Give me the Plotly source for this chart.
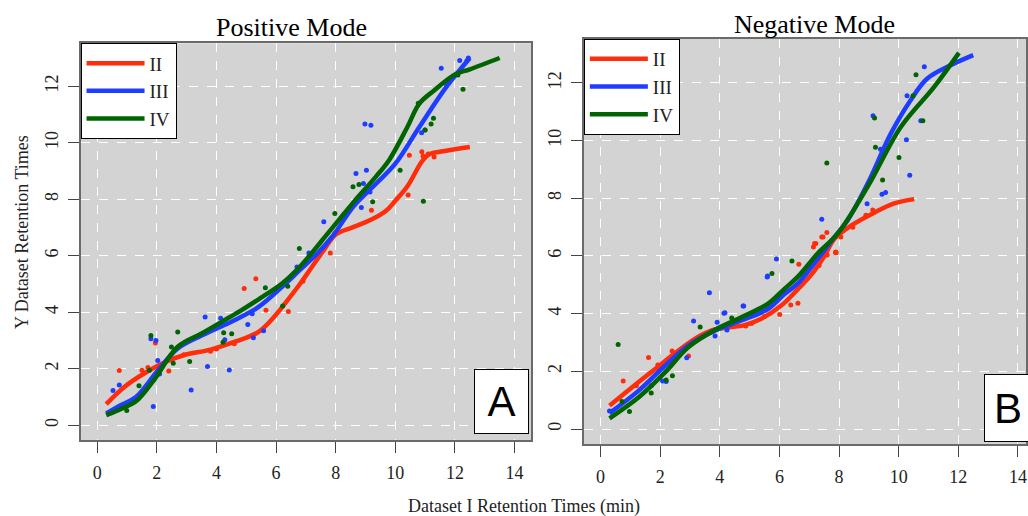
import plotly.graph_objects as go

# ---------------- data: Positive Mode (panel A) ----------------
pos_II_curve_x = [0.3, 0.9, 1.6, 2.3, 2.9, 3.8, 4.6, 5.4, 5.9, 6.4, 6.8, 7.2, 7.6, 8.0, 8.5, 9.2, 9.7, 10.0, 10.4, 10.9, 11.15, 11.6, 12.5]
pos_II_curve_y = [0.75, 1.35, 1.85, 2.25, 2.48, 2.68, 2.95, 3.3, 3.8, 4.45, 5.0, 5.6, 6.2, 6.75, 6.98, 7.28, 7.6, 7.95, 8.45, 9.35, 9.6, 9.7, 9.85]
pos_III_curve_x = [0.3, 0.8, 1.3, 2.0, 2.7, 3.5, 4.6, 5.4, 6.2, 6.8, 7.4, 7.9, 8.6, 9.35, 10.0, 10.8, 11.7, 12.5]
pos_III_curve_y = [0.42, 0.72, 1.0, 1.9, 2.72, 3.18, 3.72, 4.18, 4.9, 5.5, 6.1, 6.7, 7.75, 8.55, 9.26, 10.55, 11.96, 13.0]
pos_IV_curve_x = [0.3, 0.8, 1.3, 1.9, 2.7, 3.5, 4.2, 4.8, 5.4, 6.2, 6.7, 7.2, 7.7, 8.1, 8.6, 9.35, 9.8, 10.4, 10.8, 11.3, 12.0, 12.5, 13.5]
pos_IV_curve_y = [0.36, 0.58, 0.85, 1.6, 2.78, 3.25, 3.68, 4.05, 4.45, 5.02, 5.5, 6.1, 6.75, 7.26, 7.9, 8.8, 9.4, 10.55, 11.38, 11.85, 12.42, 12.6, 13.0]

pos_II_pts_x = [0.74, 1.95, 2.4, 4.93, 5.32, 5.66, 6.41, 7.82, 9.2, 10.43, 10.47, 10.89, 10.93, 1.5, 2.9, 3.8, 4.6, 6.9, 7.97, 11.1, 11.3, 1.7, 4.0]
pos_II_pts_y = [1.94, 2.91, 1.92, 4.84, 5.19, 4.07, 4.03, 6.1, 7.61, 8.15, 9.56, 9.68, 9.53, 1.95, 2.5, 2.62, 2.89, 5.1, 6.8, 9.6, 9.5, 2.05, 2.7]
pos_III_pts_x = [0.53, 0.74, 1.97, 1.8, 1.88, 3.15, 3.62, 3.7, 4.14, 4.43, 4.28, 5.05, 5.2, 5.24, 5.58, 2.03, 2.09, 1.9, 8.98, 9.18, 8.68, 9.03, 8.93, 9.15, 8.86, 11.54, 12.16, 10.88, 10.99, 11.72, 12.4, 12.45, 7.6, 6.7, 7.1]
pos_III_pts_y = [1.23, 1.43, 3.0, 3.06, 0.67, 1.25, 3.83, 2.08, 3.79, 1.96, 3.03, 3.57, 3.95, 3.1, 3.35, 2.29, 1.82, 1.62, 10.66, 10.62, 8.91, 9.03, 8.56, 8.26, 7.71, 12.64, 12.91, 10.35, 10.45, 12.05, 12.9, 13.0, 7.2, 5.6, 6.1]
pos_IV_pts_x = [1.8, 2.7, 2.49, 0.99, 3.1, 4.24, 4.51, 4.22, 5.64, 6.22, 6.39, 8.58, 8.78, 9.24, 10.16, 10.94, 11.2, 11.28, 12.27, 10.77, 7.97, 6.78, 1.4, 2.55, 1.75, 11.0, 12.1]
pos_IV_pts_y = [3.18, 3.3, 2.77, 0.52, 2.26, 3.28, 3.24, 2.94, 4.87, 4.22, 4.92, 8.44, 8.52, 7.91, 9.03, 7.93, 10.66, 10.87, 11.89, 11.4, 7.5, 6.26, 1.4, 2.2, 1.95, 10.45, 12.4]

# ---------------- data: Negative Mode (panel B) ----------------
neg_II_curve_x = [0.3, 1.06, 1.83, 2.61, 3.28, 3.83, 4.28, 4.83, 5.39, 6.06, 6.62, 7.07, 7.51, 7.85, 8.4, 9.18, 9.85, 10.52]
neg_II_curve_y = [0.81, 1.45, 2.08, 2.72, 3.2, 3.45, 3.52, 3.6, 3.82, 4.28, 4.85, 5.35, 6.0, 6.6, 7.05, 7.5, 7.82, 7.97]
neg_III_curve_x = [0.3, 1.28, 2.17, 2.94, 3.83, 4.72, 5.61, 6.17, 6.62, 7.29, 7.85, 8.29, 8.96, 9.74, 10.4, 10.96, 11.74, 12.5]
neg_III_curve_y = [0.55, 1.33, 2.2, 2.89, 3.41, 3.76, 4.16, 4.68, 5.05, 5.91, 6.66, 7.24, 8.51, 10.25, 11.4, 12.15, 12.61, 12.96]
neg_IV_curve_x = [0.3, 1.28, 2.17, 2.94, 3.83, 4.72, 5.61, 6.17, 6.62, 7.29, 7.96, 8.96, 10.07, 11.19, 12.02]
neg_IV_curve_y = [0.37, 1.1, 1.97, 2.83, 3.43, 3.87, 4.34, 4.86, 5.28, 6.09, 6.78, 8.4, 10.47, 11.86, 13.04]

neg_II_pts_x = [0.76, 1.61, 1.92, 2.95, 6.01, 6.38, 6.62, 6.65, 7.9, 7.6, 4.87, 5.06, 7.18, 7.46, 7.88, 8.46, 8.9, 9.13, 7.22, 7.14, 7.42, 7.59, 7.89, 7.33, 8.06, 1.2, 2.4, 3.3, 5.5]
neg_II_pts_y = [1.66, 2.48, 2.22, 2.53, 3.97, 4.3, 4.36, 5.71, 6.11, 6.03, 3.57, 3.66, 6.43, 6.66, 6.12, 6.99, 7.41, 7.59, 6.43, 6.31, 6.66, 6.81, 6.14, 5.67, 6.66, 1.5, 2.7, 3.15, 3.9]
neg_III_pts_x = [3.65, 3.12, 4.17, 3.91, 2.89, 2.08, 5.9, 5.6, 4.8, 3.84, 4.24, 4.14, 4.78, 5.59, 7.42, 8.94, 9.44, 9.56, 10.86, 10.28, 9.14, 9.39, 10.26, 10.37, 10.74, 1.7, 2.2, 0.3]
neg_III_pts_y = [4.72, 3.74, 4.03, 3.7, 2.47, 1.66, 5.89, 5.3, 4.26, 3.22, 3.43, 4.01, 4.26, 5.27, 7.27, 7.81, 8.14, 8.2, 12.56, 11.55, 10.86, 9.7, 10.03, 8.8, 10.69, 1.5, 1.65, 0.62]
neg_IV_pts_x = [0.59, 0.72, 0.97, 2.41, 3.34, 5.75, 6.42, 7.59, 9.19, 9.22, 9.46, 10.01, 10.58, 10.48, 10.81, 1.7, 2.2, 4.4]
neg_IV_pts_y = [2.93, 0.95, 0.61, 1.85, 3.54, 5.39, 5.82, 9.22, 10.78, 9.77, 8.63, 9.41, 12.28, 11.55, 10.69, 1.25, 1.7, 3.85]

series_names = ["II", "III", "IV"]
series_colors = ["#ff2d0a", "#1f3dff", "#006400"]
x_ticks = [0, 2, 4, 6, 8, 10, 12, 14]
y_ticks = [0, 2, 4, 6, 8, 10, 12]
panel_titles = ["Positive Mode", "Negative Mode"]
panel_letters = ["A", "B"]
x_title = "Dataset I Retention Times (min)"
y_title = "Y Dataset Retention Times"

SERIF = "Liberation Serif, Times New Roman, serif"
W, H = 1028, 516

panels = [
    dict(xa="x", ya="y", legend="legend",
         curves=[(pos_II_curve_x, pos_II_curve_y), (pos_III_curve_x, pos_III_curve_y), (pos_IV_curve_x, pos_IV_curve_y)],
         pts=[(pos_II_pts_x, pos_II_pts_y), (pos_III_pts_x, pos_III_pts_y), (pos_IV_pts_x, pos_IV_pts_y)]),
    dict(xa="x2", ya="y2", legend="legend2",
         curves=[(neg_II_curve_x, neg_II_curve_y), (neg_III_curve_x, neg_III_curve_y), (neg_IV_curve_x, neg_IV_curve_y)],
         pts=[(neg_II_pts_x, neg_II_pts_y), (neg_III_pts_x, neg_III_pts_y), (neg_IV_pts_x, neg_IV_pts_y)]),
]

fig = go.Figure()
for p in panels:
    for i in range(3):
        px_, py_ = p["pts"][i]
        fig.add_trace(go.Scatter(x=px_, y=py_, mode="markers", xaxis=p["xa"], yaxis=p["ya"],
                                 marker=dict(color=series_colors[i], size=5, symbol="circle", line=dict(width=0)),
                                 showlegend=False, hoverinfo="skip"))
        cx, cy = p["curves"][i]
        fig.add_trace(go.Scatter(x=cx, y=cy, mode="lines", xaxis=p["xa"], yaxis=p["ya"],
                                 line=dict(color=series_colors[i], width=4.5, shape="spline", smoothing=1.0),
                                 name=series_names[i], legend=p["legend"], showlegend=True))

def px2x(px):
    return px / W

def px2y(py):
    return (H - py) / H

axis_common = dict(
    showgrid=True, gridcolor="white", griddash="dash", gridwidth=1,
    zeroline=False, showline=True, linecolor="#6a6a6a", linewidth=1.5, mirror=True,
    ticks="outside", ticklen=11, tickcolor="#444", tickwidth=1.2,
    tickfont=dict(family=SERIF, size=18, color="#222"),
)

legend_common = dict(xanchor="left", yanchor="top",
                     bgcolor="white", bordercolor="black", borderwidth=1,
                     font=dict(family=SERIF, size=19, color="#222"), itemwidth=58,
                     tracegroupgap=0)

fig.update_layout(
    width=W, height=H, margin=dict(l=0, r=0, t=0, b=0),
    paper_bgcolor="white", plot_bgcolor="#d3d3d3",
    xaxis=dict(domain=[px2x(80.7), px2x(532.3)], range=[-0.56, 14.56], anchor="y",
               tickvals=x_ticks, ticklabelstandoff=5, **axis_common),
    yaxis=dict(domain=[px2y(440), px2y(43.3)], range=[-0.52, 13.52], anchor="x",
               tickvals=y_ticks, tickangle=-90, ticklabelstandoff=3, **axis_common),
    xaxis2=dict(domain=[px2x(585), 1.0], range=[-0.56, 14.27], anchor="y2",
                tickvals=x_ticks, ticklabelstandoff=5, **axis_common),
    yaxis2=dict(domain=[px2y(444), px2y(39)], range=[-0.52, 13.52], anchor="x2",
                tickvals=y_ticks, tickangle=-90, ticklabelstandoff=3, **axis_common),
    legend=dict(x=px2x(80.7), y=px2y(43.3), **legend_common),
    legend2=dict(x=px2x(585), y=px2y(39), **legend_common),
    showlegend=True,
)

annotations = [
    dict(text=panel_titles[0], x=px2x(292), y=px2y(28), xref="paper", yref="paper",
         xanchor="center", yanchor="middle", showarrow=False, font=dict(family=SERIF, size=26, color="black")),
    dict(text=panel_titles[1], x=px2x(816), y=px2y(25), xref="paper", yref="paper",
         xanchor="center", yanchor="middle", showarrow=False, font=dict(family=SERIF, size=26, color="black")),
    dict(text=x_title, x=px2x(525), y=px2y(506), xref="paper", yref="paper",
         xanchor="center", yanchor="middle", showarrow=False, font=dict(family=SERIF, size=18, color="#222")),
    dict(text=y_title, x=px2x(22), y=px2y(232), xref="paper", yref="paper", textangle=-90,
         xanchor="center", yanchor="middle", showarrow=False, font=dict(family=SERIF, size=18, color="#222")),
    dict(text=panel_letters[0], x=px2x(502.5), y=px2y(401.7), xref="paper", yref="paper",
         xanchor="center", yanchor="middle", showarrow=False, width=53, height=63, borderpad=0,
         bgcolor="white", bordercolor="black", borderwidth=1,
         font=dict(family="Liberation Sans, Arial, sans-serif", size=42, color="black")),
    dict(text=panel_letters[1], x=px2x(1010), y=px2y(408), xref="paper", yref="paper",
         xanchor="center", yanchor="middle", showarrow=False, width=46, height=66, borderpad=0,
         bgcolor="white", bordercolor="black", borderwidth=1,
         font=dict(family="Liberation Sans, Arial, sans-serif", size=42, color="black")),
]
fig.update_layout(annotations=annotations)

fig.write_html("out.html", config={"displayModeBar": False},
               post_script="document.body.style.margin='0px';document.body.style.overflow='hidden';")
